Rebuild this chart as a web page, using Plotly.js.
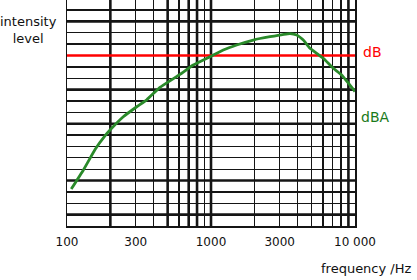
<!DOCTYPE html>
<html>
<head>
<meta charset="utf-8">
<script src="https://cdn.plot.ly/plotly-3.0.1.min.js"></script>
<style>html,body{margin:0;padding:0;background:#fff;}#chart{width:417px;height:280px;}</style>
</head>
<body>
<div id="chart"></div>
<script>
// Data
var freqHz = [107, 130, 157, 184, 199, 246, 305, 358, 442, 609, 753, 984, 1217, 1508, 1967, 2569, 3537, 3937, 4375, 4870, 5420, 6025, 7069, 8083, 10000];
var dBAlevel = [3.25, 4.93, 6.75, 7.95, 8.44, 9.61, 10.49, 11.1, 12.2, 13.34, 14.16, 14.89, 15.48, 15.92, 16.36, 16.65, 16.93, 16.8, 16.36, 15.63, 15.19, 14.75, 13.87, 13.28, 11.83];
var dBfreq = [100, 10000];
var dBlevel = [15, 15];
var tickVals = [100,200,300,400,500,600,700,800,900,1000,2000,3000,4000,5000,6000,7000,8000,9000,10000];
var tickText = ['100','','300','','','','','','','1000','','3000','','','','','','','10 000'];
var thickX = [200, 500, 700, 800, 1000, 9000];
var thickY = [1, 4, 9, 12, 18];

var font = "'DejaVu Sans', sans-serif";
var shapes = [];
thickX.forEach(function(v){
  shapes.push({type:'line', xref:'x', yref:'paper', x0:v, x1:v, y0:0, y1:1, layer:'below', line:{color:'#151515', width:2.6}});
});
thickY.forEach(function(v){
  shapes.push({type:'line', xref:'paper', yref:'y', x0:0, x1:1, y0:v, y1:v, layer:'below', line:{color:'#151515', width:2.6}});
});

var traces = [
  {x: dBfreq, y: dBlevel, mode:'lines', line:{color:'#ff0000', width:2.6}, hoverinfo:'skip'},
  {x: freqHz, y: dBAlevel, mode:'lines', line:{color:'#2a8a2a', width:2.8, shape:'spline', smoothing:0.3}, hoverinfo:'skip'}
];

var layout = {
  width:417, height:280,
  margin:{l:67, r:62, t:0, b:54},
  paper_bgcolor:'#fff', plot_bgcolor:'#fff',
  showlegend:false,
  font:{family:font, color:'#111', size:12},
  xaxis:{type:'log', range:[2,4], tickmode:'array', tickvals:tickVals, ticktext:tickText,
         showgrid:true, gridcolor:'#151515', gridwidth:1.3, showline:true, linecolor:'#151515', linewidth:1.5,
         ticks:'', ticklabelstandoff:4, zeroline:false, tickfont:{size:12, color:'#111', family:font}},
  yaxis:{range:[0,19.88], dtick:1, tick0:0, showticklabels:false, showgrid:true, gridcolor:'#151515', gridwidth:1.3,
         showline:true, mirror:true, linecolor:'#151515', linewidth:1.5, ticks:'', zeroline:false},
  shapes: shapes,
  annotations:[
    {xref:'paper', yref:'paper', x:-0.132, y:0.868, text:'intensity<br>level', showarrow:false, xanchor:'center', yanchor:'middle',
     font:{size:13, color:'#111', family:font}},
    {xref:'paper', yref:'y', x:1.02, y:15.3, text:'dB', showarrow:false, xanchor:'left', yanchor:'middle',
     font:{size:14, color:'#ff0000', family:font}},
    {xref:'paper', yref:'y', x:1.015, y:9.55, text:'dBA', showarrow:false, xanchor:'left', yanchor:'middle',
     font:{size:14, color:'#1a7a1a', family:font}},
    {xref:'paper', yref:'paper', x:1.2, y:-0.19, text:'frequency /Hz', showarrow:false, xanchor:'right', yanchor:'middle',
     font:{size:13, color:'#111', family:font}}
  ]
};

Plotly.newPlot('chart', traces, layout, {displayModeBar:false, staticPlot:true});
</script>
</body>
</html>
